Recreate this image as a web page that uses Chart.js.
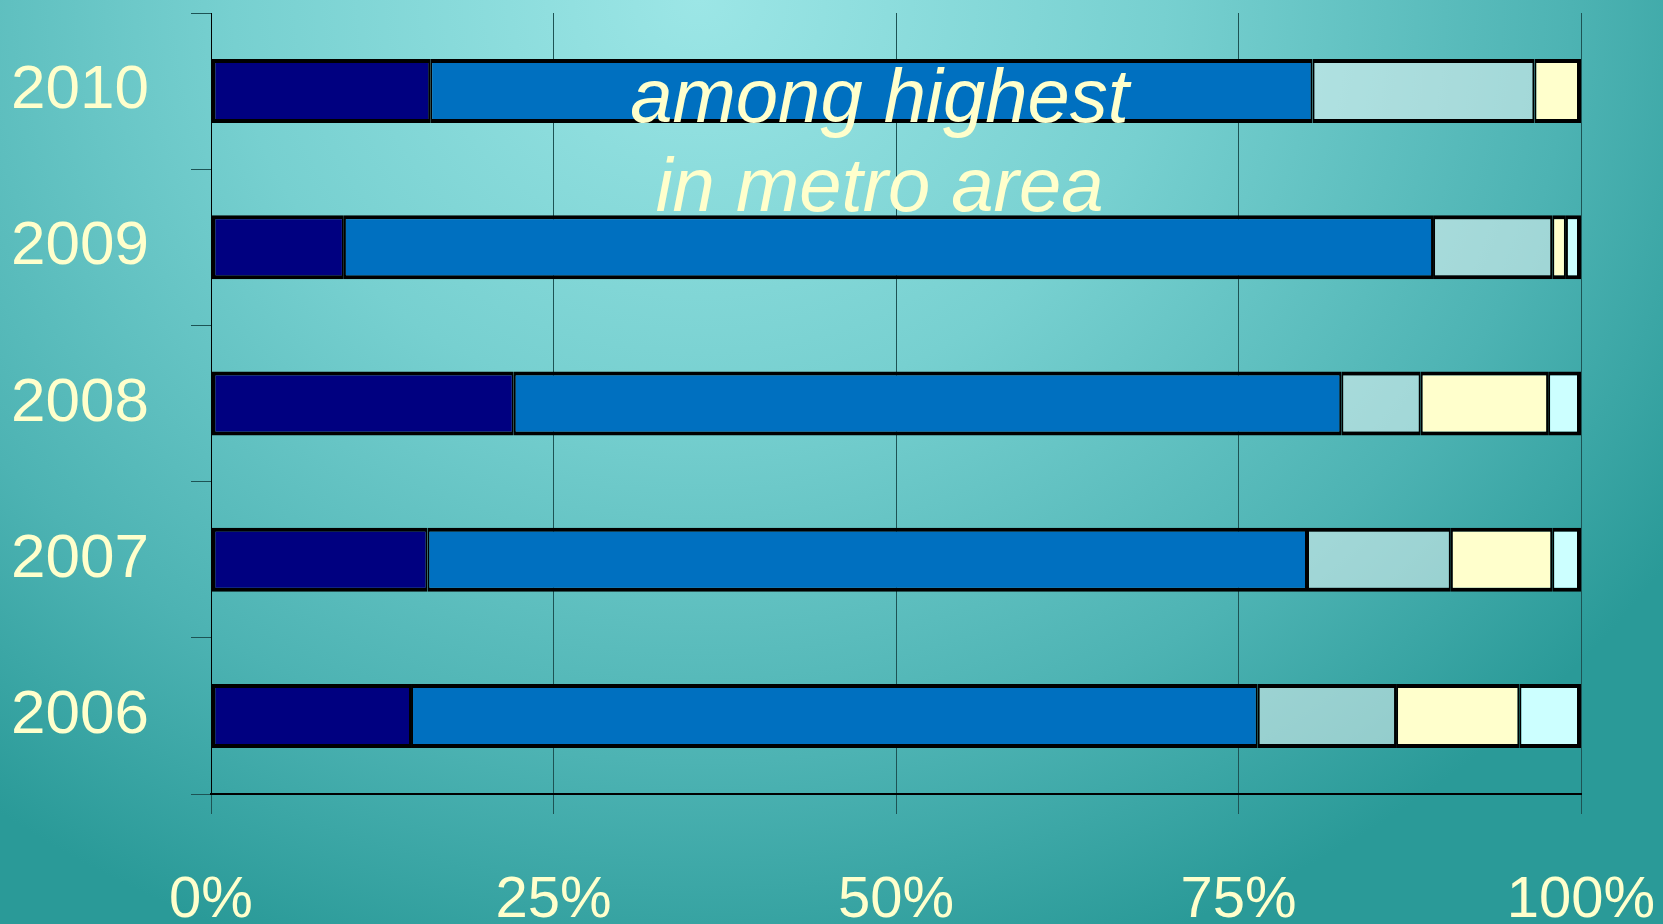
<!DOCTYPE html>
<html>
<head>
<meta charset="utf-8">
<script src="https://cdn.jsdelivr.net/npm/chart.js@4/dist/chart.umd.min.js"></script>
<style>
  html, body { margin: 0; padding: 0; }
  body {
    width: 1663px; height: 924px; overflow: hidden;
    background: radial-gradient(ellipse 70% 110% at 42% 0%, #9ce6e6 0%, #77d0d0 40%, #4db3b3 75%, #2a9a98 100%);
  }
  #wrap { position: relative; width: 1663px; height: 924px; }
</style>
</head>
<body>
<div id="wrap"><canvas id="grafico" width="1663" height="924"></canvas></div>
<script>
const anos = ['2010', '2009', '2008', '2007', '2006'];
const serie1 = [16.0, 9.7, 22.1, 15.8, 14.6];
const serie2 = [64.4, 79.5, 60.4, 64.2, 61.8];
const serie3 = [16.2, 8.7, 5.8, 10.5, 10.1];
const serie4 = [3.4, 1.0, 9.3, 7.4, 9.0];
const serie5 = [0, 1.1, 2.4, 2.1, 4.5];
const ticksX = ['0%', '25%', '50%', '75%', '100%'];
const nota = ['among highest', 'in metro area'];

const cores = ['#000080', '#0070c0', 'rgba(255,255,255,0.48)', '#ffffcc', '#ccffff'];
const series = [serie1, serie2, serie3, serie4, serie5];

// ultimo segmento visivel de cada barra
function ultimo(idx) {
  let u = 0;
  series.forEach((s, i) => { if (s[idx] > 0) u = i; });
  return u;
}

const textoNota = {
  id: 'textoNota',
  afterDatasetsDraw(chart) {
    const ctx = chart.ctx;
    const x = chart.scales.x.getPixelForValue(48.8);
    const y1 = chart.scales.y.getPixelForValue(0.06);
    const y2 = chart.scales.y.getPixelForValue(0.63);
    ctx.save();
    ctx.fillStyle = '#ffffcc';
    ctx.font = 'italic 76px "Liberation Sans"';
    ctx.textAlign = 'center';
    ctx.textBaseline = 'middle';
    ctx.fillText(nota[0], x, y1);
    ctx.fillText(nota[1], x, y2);
    ctx.restore();
  }
};

const semPadding = (s) => {
  s.paddingLeft = 0; s.paddingRight = 0; s.paddingTop = 0; s.paddingBottom = 0;
};

const ctx = document.getElementById('grafico').getContext('2d');
new Chart(ctx, {
  type: 'bar',
  data: {
    labels: anos,
    datasets: series.map((d, i) => ({
      label: 'Serie ' + (i + 1),
      data: d,
      backgroundColor: cores[i],
      borderColor: '#000000',
      borderWidth: (c) => ({
        top: 4,
        bottom: 4,
        left: i === 0 ? 4 : 2,
        right: i === ultimo(c.dataIndex) ? 4 : 2
      }),
      borderSkipped: false,
      barPercentage: 0.41,
      categoryPercentage: 1
    }))
  },
  plugins: [textoNota],
  options: {
    indexAxis: 'y',
    responsive: false,
    animation: false,
    layout: { padding: { top: 13, right: 82, left: 0, bottom: 0 } },
    plugins: {
      legend: { display: false },
      tooltip: { enabled: false },
      title: { display: false }
    },
    scales: {
      x: {
        stacked: true,
        min: 0,
        max: 100,
        afterFit: (s) => { s.height = 130; semPadding(s); },
        afterBuildTicks: (s) => { s.ticks = [0, 25, 50, 75, 100].map(v => ({ value: v })); },
        ticks: {
          color: '#ffffcc',
          font: { family: 'Liberation Sans', size: 58 },
          padding: 52,
          maxRotation: 0,
          callback: (v) => ticksX[v / 25]
        },
        grid: {
          color: '#1d5354',
          lineWidth: 1,
          tickLength: 20,
          drawTicks: true
        },
        border: { color: '#000000', width: 2 }
      },
      y: {
        stacked: true,
        afterFit: (s) => { s.width = 211; semPadding(s); },
        ticks: {
          color: '#ffffcc',
          font: { family: 'Liberation Sans', size: 62 },
          padding: 42
        },
        grid: {
          drawOnChartArea: false,
          color: '#1d5354',
          tickLength: 20
        },
        border: { color: '#000000', width: 1 }
      }
    }
  }
});
</script>
</body>
</html>
